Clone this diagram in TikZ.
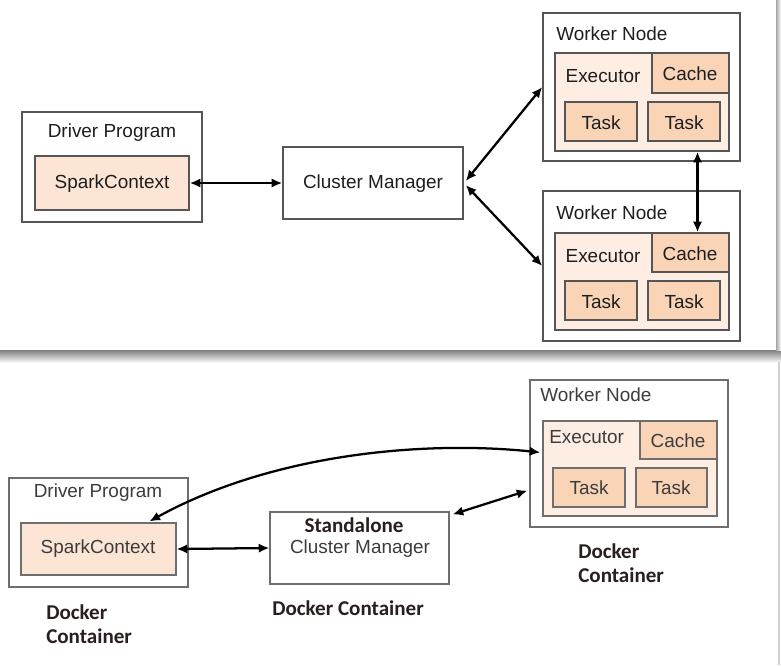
\documentclass[tikz,border=0pt]{standalone}
\usepackage{fontspec}
\setmainfont{Liberation Sans}
\newfontfamily\calib{Carlito}
\usetikzlibrary{arrows.meta,fit,calc}
\definecolor{execfill}{HTML}{FDEDE2}
\definecolor{taskfill}{HTML}{F9D4B6}
\definecolor{scfill}{HTML}{FCE5D5}
\definecolor{bordc}{HTML}{555555}
\definecolor{bordb}{HTML}{6E6E6E}
\definecolor{txt}{HTML}{1E1E1E}
\definecolor{txtb}{HTML}{3C3C3C}
\definecolor{lbl}{HTML}{2A1E1E}
\tikzset{
  box/.style={draw=bordc, line width=1.1pt, inner sep=0pt, fill=white},
  boxb/.style={draw=bordb, line width=0.9pt, inner sep=0pt, fill=white},
  execbox/.style={box, fill=execfill},
  taskbox/.style={box, fill=taskfill},
  scbox/.style={box, fill=scfill},
  t/.style={text=txt, font=\fontsize{14.2}{17}\selectfont, inner sep=0pt},
  tb/.style={text=txtb, font=\fontsize{14.2}{17}\selectfont, inner sep=0pt},
  dl/.style={text=lbl, font=\calib\bfseries\fontsize{15.8}{19}\selectfont, inner sep=0pt},
  arr/.style={line width=1.7pt, black, {Latex[length=8pt,width=7pt]}-{Latex[length=8pt,width=7pt]}},
}
\begin{document}
\begin{tikzpicture}[x=0.75pt,y=-0.75pt]
\useasboundingbox (0,0) rectangle (781,665);
\fill[white] (0,0) rectangle (781,665);
% panel shadows
\shade[top color=black!50, bottom color=black!4] (0,350) rectangle (781,362);
\shade[left color=black!35, right color=white] (776,0) rectangle (781,350);
\draw[black!18, line width=0.8pt] (779,362) -- (779,665);

% ---------------- top panel ----------------
\node[box, fit={(22,112) (202,222)}] (dp) {};
\node[t] (dpt) at (112,133) {Driver Program};
\node[scbox, fit={(35,156) (189,210)}] (sc) {};
\node[t] (sct) at (112,184) {SparkContext};

\node[box, fit={(283,147) (463,219)}] (cm) {};
\node[t] (cmt) at (373,184) {Cluster Manager};

% worker 1
\node[box, fit={(543,13) (740,161)}] (w1) {};
\node[t, anchor=west] (w1t) at (556,34) {Worker Node};
\node[execbox, fit={(555,53) (729,151)}] (e1) {};
\node[taskbox, fit={(652,53) (729,93)}] (c1) {};
\node[t] (e1t) at (603,76) {Executor};
\node[t] (c1t) at (690,74) {Cache};
\node[taskbox, fit={(565,102) (637,141)}] (ta1) {};
\node[t] (ta1t) at (601,123) {Task};
\node[taskbox, fit={(648,102) (720,141)}] (tb1) {};
\node[t] (tb1t) at (684,123) {Task};

% worker 2
\node[box, fit={(543,191) (740,341)}] (w2) {};
\node[t, anchor=west] (w2t) at (556,213) {Worker Node};
\node[execbox, fit={(555,233) (729,330)}] (e2) {};
\node[taskbox, fit={(652,233) (729,272)}] (c2) {};
\node[t] (e2t) at (603,256) {Executor};
\node[t] (c2t) at (690,254) {Cache};
\node[taskbox, fit={(565,281) (637,320)}] (ta2) {};
\node[t] (ta2t) at (601,302) {Task};
\node[taskbox, fit={(648,281) (720,320)}] (tb2) {};
\node[t] (tb2t) at (684,302) {Task};

\draw[arr] (sc.east) -- (cm.west);
\draw[arr] ($(cm.east)+(2,-2)$) -- (w1.west);
\draw[arr] ($(cm.east)+(2,2)$) -- (w2.west);
\coordinate (v1) at ($(c2.north)+(7,0)$);
\draw[arr] (v1 |- e1.south) -- (v1);

% ---------------- bottom panel ----------------
\node[boxb, fit={(9,478) (188,587)}] (dp2) {};
\node[tb] (dp2t) at (98,493) {Driver Program};
\node[boxb, fill=scfill, fit={(21,523) (176,575)}] (sc2) {};
\node[tb] (sc2t) at (98,549) {SparkContext};

\node[boxb, fit={(270,512) (449,584)}] (cm2) {};
\node[dl] (cm2a) at (354,525) {Standalone};
\node[tb] (cm2b) at (360,549) {Cluster Manager};

\node[boxb, fit={(530,380) (728,527)}] (w3) {};
\node[tb, anchor=west] (w3t) at (540,395) {Worker Node};
\node[boxb, fill=execfill, fit={(543,421) (717,516)}] (e3) {};
\node[boxb, fill=taskfill, fit={(640,421) (717,459)}] (c3) {};
\node[tb, anchor=west] (e3t) at (549,437) {Executor};
\node[tb] (c3t) at (678,441) {Cache};
\node[boxb, fill=taskfill, fit={(553,468) (625,507)}] (ta3) {};
\node[tb] (ta3t) at (589,488) {Task};
\node[boxb, fill=taskfill, fit={(636,468) (707,507)}] (tb3) {};
\node[tb] (tb3t) at (671,488) {Task};

\node[dl, anchor=west] (l1a) at (46,612) {Docker};
\node[dl, anchor=west] (l1b) at (46,636) {Container};
\node[dl, anchor=west] (l2) at (272,608) {Docker Container};
\node[dl, anchor=west] (l3a) at (578,551) {Docker};
\node[dl, anchor=west] (l3b) at (578,575) {Container};

\draw[arr] (sc2.east) -- (cm2.west);
\draw[arr] ($(cm2.north east)+(3,3)$) -- ($(w3.south west)+(-2,-37)$);
\coordinate (cs) at ($(sc2.north west)+(129,-1)$);
\coordinate (ce) at ($(e3.north west)+(-2,32)$);
\draw[arr] (cs) .. controls (270,455) and (420,440) .. (ce);
\end{tikzpicture}
\end{document}
